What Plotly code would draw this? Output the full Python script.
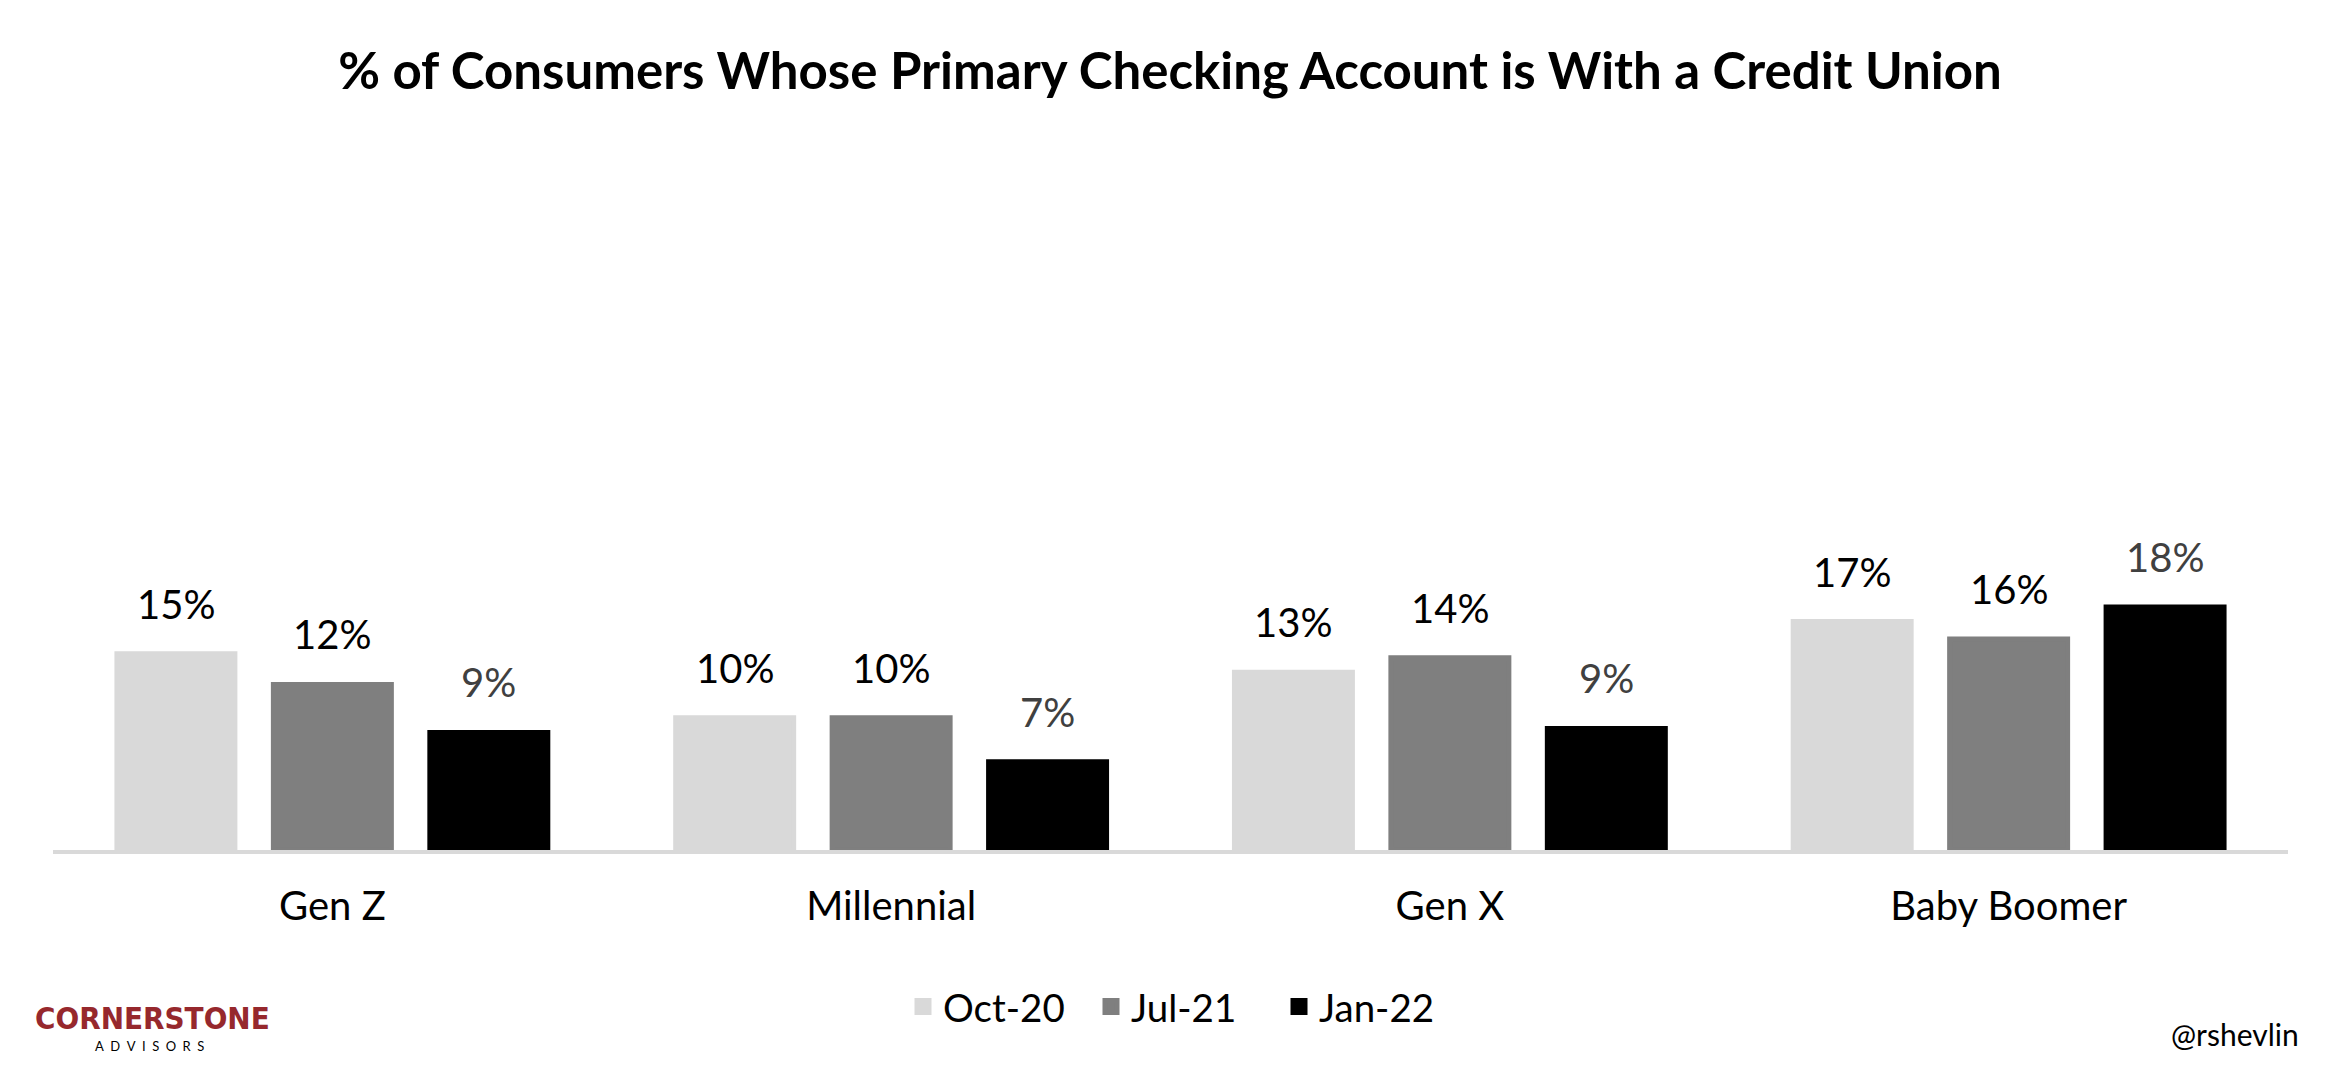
import plotly.graph_objects as go

# ---- data ----
categories = ["Gen Z", "Millennial", "Gen X", "Baby Boomer"]
series_names = ["Oct-20", "Jul-21", "Jan-22"]
oct20 = [14.7, 9.9, 13.3, 17.1]
jul21 = [12.4, 9.9, 14.4, 15.8]
jan22 = [8.8, 6.6, 9.1, 18.2]
series_values = [oct20, jul21, jan22]
colors = ["#D9D9D9", "#7F7F7F", "#000000"]
label_colors = ["#000000", "#000000", "#404040"]

title_text = "% of Consumers Whose Primary Checking Account is With a Credit Union"

# the page body has an 8px margin, so the figure is drawn 8px in from the window edge
OFF = 8
W, H = 2340 - OFF, 1080 - OFF
ML, MR, MB = 53 - OFF, 52, 230
PLOT_H = 601
MT = H - MB - PLOT_H
BARGAP = 0.160
BARGROUPGAP = 0.246
EDGE = 5  # outline in bar colour (also enlarges legend swatches)
FONT = "Lato, 'Open Sans', sans-serif"

fig = go.Figure()
for name, vals, col in zip(series_names, series_values, colors):
    fig.add_trace(go.Bar(
        x=categories, y=vals, name=name,
        marker=dict(color=col, line=dict(width=EDGE, color=col)),
        hoverinfo="skip",
    ))

plot_w = W - ML - MR
slot = plot_w / len(categories) * (1 - BARGAP) / len(series_names)

annotations = []
for i, (vals, lc) in enumerate(zip(series_values, label_colors)):
    for cat, v in zip(categories, vals):
        annotations.append(dict(
            x=cat, y=v, xref="x", yref="y",
            text=f"{v:.0f}%", showarrow=False,
            xshift=(i - (len(series_names) - 1) / 2) * slot,
            yshift=50, yanchor="middle",
            font=dict(family=FONT, size=40, color=lc),
        ))

def px_x(x):  # window pixel -> paper x
    return (x - OFF - ML) / plot_w

def px_y(y):  # window pixel -> paper y
    return 1 - (y - OFF - MT) / PLOT_H

# branding
annotations.append(dict(
    x=px_x(33), y=px_y(1018), xref="paper", yref="paper", text="<b>CORNERSTONE</b>",
    showarrow=False, xanchor="left", yanchor="middle",
    font=dict(family="'Liberation Sans Narrow', 'DejaVu Sans Condensed', Roboto, sans-serif",
              size=31, color="#96282D"),
))
annotations.append(dict(
    x=px_x(149), y=px_y(1046), xref="paper", yref="paper",
    text="\u2002".join("ADVISORS"),
    showarrow=False, xanchor="center", yanchor="middle",
    font=dict(family=FONT, size=13, color="#000000"),
))
annotations.append(dict(
    x=px_x(2235), y=px_y(1034), xref="paper", yref="paper", text="@rshevlin",
    showarrow=False, xanchor="center", yanchor="middle",
    font=dict(family=FONT, size=30, color="#000000"),
))

fig.update_layout(
    width=W, height=H,
    margin=dict(l=ML, r=MR, t=MT, b=MB, autoexpand=False),
    paper_bgcolor="white", plot_bgcolor="white",
    barmode="group", bargap=BARGAP, bargroupgap=BARGROUPGAP,
    title=dict(text=f"<b>{title_text}</b>", x=(1170 - OFF - ML) / plot_w, xref="paper",
               xanchor="center", y=1 - 63 / H, yanchor="middle",
               font=dict(family=FONT, size=51, color="#000000")),
    xaxis=dict(showline=True, linecolor="#D9D9D9", linewidth=4,
               ticks="", showgrid=False,
               tickfont=dict(family=FONT, size=40, color="#000000"),
               ticklabelstandoff=18),
    yaxis=dict(range=[0, 45], visible=False, showgrid=False, zeroline=False),
    legend=dict(orientation="h", x=px_x(903), xanchor="left", y=px_y(1007),
                yanchor="middle", font=dict(family=FONT, size=38.5, color="#000000"),
                entrywidth=143, bgcolor="rgba(0,0,0,0)"),
    annotations=annotations,
    showlegend=True,
)

fig.write_html("out.html")
